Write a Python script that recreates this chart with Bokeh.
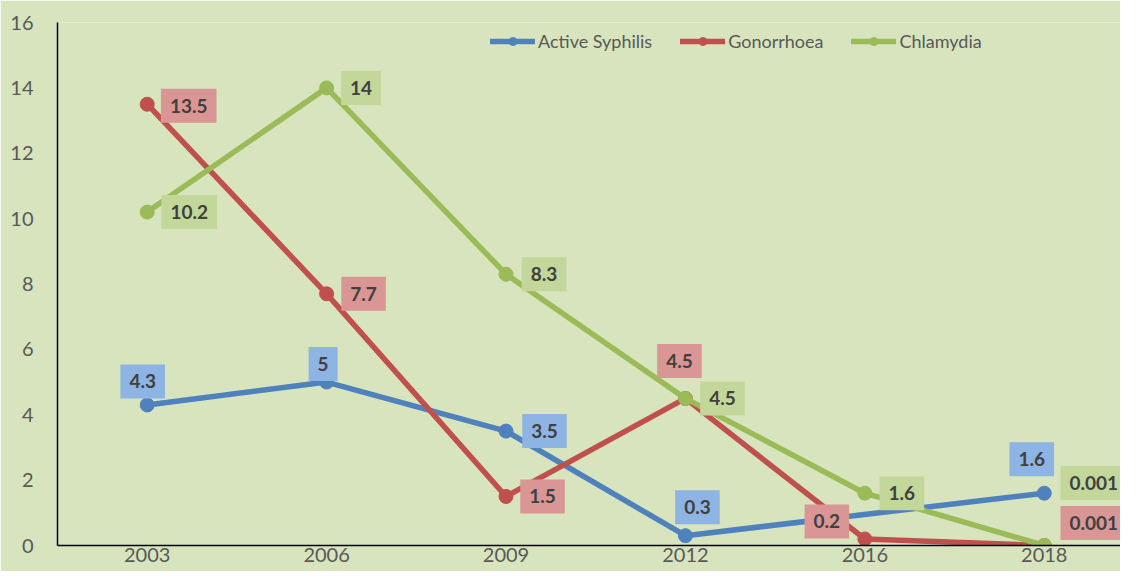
from bokeh.plotting import figure
from bokeh.models import ColumnDataSource, FixedTicker, Legend, LegendItem, Range1d
from bokeh.core.properties import value
from bokeh.embed import file_html
from bokeh.resources import INLINE

# ---- data ----
years = ["2003", "2006", "2009", "2012", "2016", "2018"]
syphilis = [4.3, 5, 3.5, 0.3, None, 1.6]
gonorrhoea = [13.5, 7.7, 1.5, 4.5, 0.2, 0.001]
chlamydia = [10.2, 14, 8.3, 4.5, 1.6, 0.001]
y_ticks = [0, 2, 4, 6, 8, 10, 12, 14, 16]

# ---- label placement (screen px: dx right, dy up) ----
syph_off = [(-4.5, 23.5), (-3.5, 18), (38.5, 0), (12, 28.5), None, (-12.5, 34)]
gon_off = [(41.5, -1.5), (37, 0), (36.5, 0), (-6, 37.5), (-38, 17.5), (49.5, 22.5)]
chl_off = [(42, 0), (34.5, 0), (38, 0), (37, 0), (37, 0), (49.5, 62.5)]

BG = "#D7E4BD"
FONT = "Lato"

p = figure(width=1120, height=571, output_backend="svg", toolbar_location=None,
           x_range=Range1d(-0.5, 5.425), y_range=Range1d(0, 16),
           min_border_left=57, min_border_right=0, min_border_top=22, min_border_bottom=26)
p.background_fill_color = BG
p.border_fill_color = BG
p.outline_line_color = None
p.xgrid.visible = False
p.ygrid.visible = False

for ax in (p.xaxis[0], p.yaxis[0]):
    ax.axis_line_color = "black"
    ax.axis_line_width = 1.5
    ax.major_tick_line_color = None
    ax.major_tick_out = 0
    ax.major_tick_in = 0
    ax.minor_tick_line_color = None
    ax.minor_tick_out = 0
    ax.major_label_text_font = FONT
    ax.major_label_text_font_size = "20px"
    ax.major_label_text_color = "#595959"

p.xaxis.ticker = FixedTicker(ticks=list(range(len(years))))
p.xaxis.major_label_overrides = {i: y for i, y in enumerate(years)}
p.xaxis.major_label_standoff = 2
p.yaxis.ticker = FixedTicker(ticks=y_ticks)
p.yaxis.major_label_standoff = 24

series = [
    ("Active Syphilis", syphilis, syph_off, "#4F81BD", "#8DB4E2"),
    ("Gonorrhoea", gonorrhoea, gon_off, "#C0504D", "#DA9694"),
    ("Chlamydia", chlamydia, chl_off, "#9BBB59", "#C4D79B"),
]

items = []
label_sources = []
for name, vals, offs, col, lab_col in series:
    xs = [i for i, v in enumerate(vals) if v is not None]
    ys = [v for v in vals if v is not None]
    src = ColumnDataSource(dict(x=xs, y=ys))
    ln = p.line("x", "y", source=src, line_color=col, line_width=5.5,
                line_join="round", line_cap="round")
    sc = p.scatter("x", "y", source=src, marker="circle", size=14,
                   fill_color=col, line_color=col)
    items.append(LegendItem(label=name, renderers=[ln, sc]))
    lx, ly, lt, dx, dy = [], [], [], [], []
    for i, v in enumerate(vals):
        if v is None:
            continue
        lx.append(i)
        ly.append(v)
        lt.append(f"{v:g}")
        dx.append(offs[i][0])
        dy.append(-offs[i][1])
    label_sources.append((ColumnDataSource(dict(x=lx, y=ly, t=lt, dx=dx, dy=dy)), lab_col))

for src, lab_col in label_sources:
    p.text("x", "y", text="t", source=src, x_offset="dx", y_offset="dy",
           text_align="center", text_baseline="middle",
           text_font=value(FONT), text_font_style="bold", text_font_size="19px",
           text_color="#404040", background_fill_color=lab_col,
           padding=[9, 10])

legend = Legend(items=items, orientation="horizontal", location=(433, 493),
                background_fill_alpha=0, border_line_color=None,
                label_text_font=FONT, label_text_font_size="18px",
                label_text_color="#595959", glyph_width=45, glyph_height=20,
                label_height=20, label_standoff=3, spacing=28, padding=0, margin=0)
p.add_layout(legend)

open("out.html", "w").write(file_html(p, INLINE))
